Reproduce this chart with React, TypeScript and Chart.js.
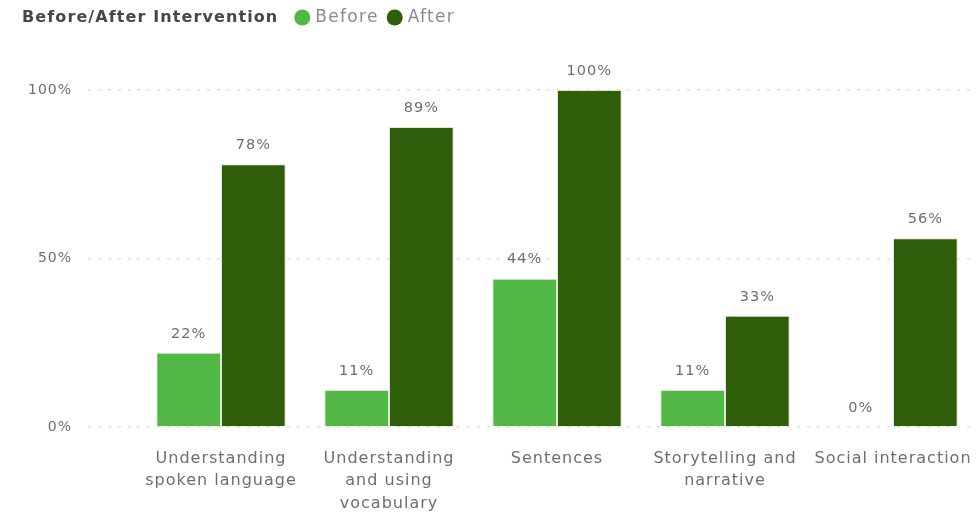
import React, { useEffect, useRef } from "react";
import { Chart, registerables } from "chart.js";

Chart.register(...registerables);

const legendTitle = "Before/After Intervention";
const categories: (string | string[])[] = [
  ["Understanding", "spoken language"],
  ["Understanding", "and using", "vocabulary"],
  "Sentences",
  ["Storytelling and", "narrative"],
  "Social interaction",
];
const seriesNames = ["Before", "After"];
const beforeValues = [22, 11, 44, 11, 0];
const afterValues = [78, 89, 100, 33, 56];
const yMin = 0;
const yMax = 100;
const yStep = 50;

const BEFORE_COLOR = "#52b845";
const AFTER_COLOR = "#2f5e0b";
const TEXT_GRAY = "#6e6e6e";
const FONT = "'DejaVu Sans', sans-serif";

const spacingPlugin = {
  id: "spacing",
  beforeLayout(chart: any) {
    chart.ctx.letterSpacing = "1px";
  },
  beforeDraw(chart: any) {
    chart.ctx.letterSpacing = "1px";
  },
};

const valueLabelPlugin = {
  id: "valueLabels",
  afterDatasetsDraw(chart: any) {
    const ctx = chart.ctx;
    ctx.save();
    ctx.letterSpacing = "1px";
    ctx.font = `14.5px ${FONT}`;
    ctx.fillStyle = TEXT_GRAY;
    ctx.textAlign = "center";
    ctx.textBaseline = "middle";
    chart.data.datasets.forEach((ds: any, i: number) => {
      const meta = chart.getDatasetMeta(i);
      meta.data.forEach((el: any, j: number) => {
        ctx.fillText(`${ds.data[j]}%`, el.x, el.y - 19);
      });
    });
    ctx.restore();
  },
};

const legendPlugin = {
  id: "customLegend",
  afterDraw(chart: any) {
    const ctx = chart.ctx;
    ctx.save();
    ctx.letterSpacing = "1.1px";
    const y = 17.5;
    let x = 22;
    ctx.textBaseline = "middle";
    ctx.textAlign = "left";
    ctx.font = `bold 16px ${FONT}`;
    ctx.fillStyle = "#474747";
    ctx.fillText(legendTitle, x, y);
    x += ctx.measureText(legendTitle).width + 16;
    ctx.font = `17px ${FONT}`;
    ctx.letterSpacing = "1.3px";
    chart.data.datasets.forEach((ds: any) => {
      ctx.fillStyle = ds.backgroundColor;
      ctx.beginPath();
      ctx.arc(x + 8, y, 8, 0, Math.PI * 2);
      ctx.fill();
      x += 21;
      ctx.fillStyle = "#8a8a8a";
      ctx.fillText(ds.label, x, y);
      x += ctx.measureText(ds.label).width + 8;
    });
    ctx.restore();
  },
};

export default function App() {
  const ref = useRef<HTMLCanvasElement | null>(null);
  useEffect(() => {
    if (!ref.current) return;
    const chart = new Chart(ref.current, {
      type: "bar",
      data: {
        labels: categories,
        datasets: [
          {
            label: seriesNames[0],
            data: beforeValues,
            backgroundColor: BEFORE_COLOR,
            borderColor: "#dfe6d8",
            borderWidth: 1,
            borderSkipped: "start",
            barPercentage: 1,
            categoryPercentage: 0.77,
          },
          {
            label: seriesNames[1],
            data: afterValues,
            backgroundColor: AFTER_COLOR,
            borderColor: "#dfe6d8",
            borderWidth: 1,
            borderSkipped: "start",
            barPercentage: 1,
            categoryPercentage: 0.77,
          },
        ],
      },
      options: {
        responsive: false,
        animation: false,
        devicePixelRatio: 1,
        layout: { padding: { top: 90, left: 0, right: 0, bottom: 0 } },
        plugins: {
          legend: { display: false },
          tooltip: { enabled: false },
          title: { display: false },
        },
        scales: {
          x: {
            grid: {
              display: true,
              drawOnChartArea: false,
              drawTicks: true,
              tickLength: 17,
              tickColor: "rgba(0,0,0,0)",
            },
            border: { display: false },
            ticks: {
              color: TEXT_GRAY,
              font: { family: FONT, size: 16, lineHeight: 1.42 },
              padding: 3,
              maxRotation: 0,
              autoSkip: false,
            },
            afterFit(axis: any) {
              axis.height = 85;
            },
          },
          y: {
            min: yMin,
            max: yMax,
            grid: {
              color: "#e2e2e2",
              lineWidth: 1.5,
              tickLength: 49,
              tickBorderDash: [3, 7],
            },
            border: { display: false, dash: [3, 7] },
            ticks: {
              stepSize: yStep,
              color: TEXT_GRAY,
              font: { family: FONT, size: 14 },
              padding: 16,
              callback: (v: any) => `${v}%`,
            },
            afterFit(axis: any) {
              axis.width = 137;
            },
          },
        },
      },
      plugins: [spacingPlugin, valueLabelPlugin, legendPlugin],
    });
    return () => chart.destroy();
  }, []);
  return (
    <div style={{ position: "fixed", left: 0, top: 0, width: 977, height: 512, background: "#fff" }}>
      <canvas ref={ref} width={977} height={512} style={{ display: "block" }} />
    </div>
  );
}
